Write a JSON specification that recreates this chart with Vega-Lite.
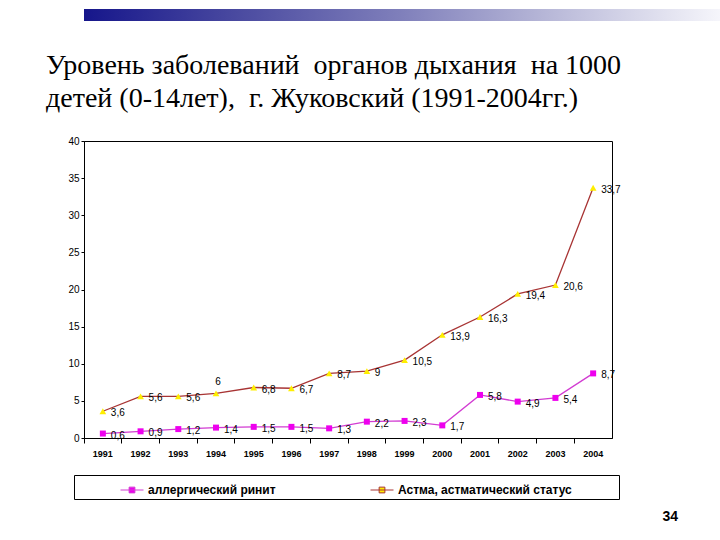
{
  "$schema": "https://vega.github.io/schema/vega-lite/v6.json",
  "autosize": {"type": "pad"},
  "padding": {"left": 45, "top": 9, "right": 0, "bottom": 0},
  "background": "white",
  "config": {
    "font": "Liberation Sans",
    "view": {"stroke": "black", "strokeWidth": 1},
    "axis": {"domainColor": "black", "tickColor": "black", "labelColor": "black"}
  },
  "title": {"text": "34", "orient": "bottom", "anchor": "end", "frame": "bounds", "fontSize": 14, "fontWeight": "bold", "font": "Liberation Sans", "color": "black", "dx": -43, "offset": 10, "baseline": "top"},
  "spacing": 30,
  "resolve": {"scale": {"color": "independent"}, "legend": {"color": "independent"}},
  "vconcat": [
    {
      "width": 637,
      "height": 12,
      "view": {"stroke": null},
      "data": {"values": [{"k": 1}]},
      "mark": {
        "type": "rect",
        "color": {
          "gradient": "linear", "x1": 0, "x2": 1, "y1": 0, "y2": 0,
          "stops": [
            {"offset": 0, "color": "#16168b"},
            {"offset": 0.24, "color": "#4a4aa0"},
            {"offset": 0.5, "color": "#8080bb"},
            {"offset": 0.73, "color": "#b8b8d8"},
            {"offset": 1, "color": "#f6f6fb"}
          ]
        }
      },
      "encoding": {}
    },
    {
      "width": 528,
      "height": 297,
      "title": {
        "text": ["Уровень заболеваний\u00a0 органов дыхания\u00a0 на 1000", "детей (0-14лет),\u00a0 г. Жуковский (1991-2004гг.)"],
        "font": "Liberation Serif", "fontSize": 28, "fontWeight": "normal", "color": "black",
        "lineHeight": 33, "anchor": "start", "frame": "group", "dx": -38, "offset": 23
      },
      "data": {
        "values": [
          {"year": "1991", "series": "аллергический ринит", "value": 0.6, "label": "0,6"},
          {"year": "1992", "series": "аллергический ринит", "value": 0.9, "label": "0,9"},
          {"year": "1993", "series": "аллергический ринит", "value": 1.2, "label": "1,2"},
          {"year": "1994", "series": "аллергический ринит", "value": 1.4, "label": "1,4"},
          {"year": "1995", "series": "аллергический ринит", "value": 1.5, "label": "1,5"},
          {"year": "1996", "series": "аллергический ринит", "value": 1.5, "label": "1,5"},
          {"year": "1997", "series": "аллергический ринит", "value": 1.3, "label": "1,3"},
          {"year": "1998", "series": "аллергический ринит", "value": 2.2, "label": "2,2"},
          {"year": "1999", "series": "аллергический ринит", "value": 2.3, "label": "2,3"},
          {"year": "2000", "series": "аллергический ринит", "value": 1.7, "label": "1,7"},
          {"year": "2001", "series": "аллергический ринит", "value": 5.8, "label": "5,8"},
          {"year": "2002", "series": "аллергический ринит", "value": 4.9, "label": "4,9"},
          {"year": "2003", "series": "аллергический ринит", "value": 5.4, "label": "5,4"},
          {"year": "2004", "series": "аллергический ринит", "value": 8.7, "label": "8,7"},
          {"year": "1991", "series": "Астма, астматический статус", "value": 3.6, "label": "3,6"},
          {"year": "1992", "series": "Астма, астматический статус", "value": 5.6, "label": "5,6"},
          {"year": "1993", "series": "Астма, астматический статус", "value": 5.6, "label": "5,6"},
          {"year": "1994", "series": "Астма, астматический статус", "value": 6, "label": "6"},
          {"year": "1995", "series": "Астма, астматический статус", "value": 6.8, "label": "6,8"},
          {"year": "1996", "series": "Астма, астматический статус", "value": 6.7, "label": "6,7"},
          {"year": "1997", "series": "Астма, астматический статус", "value": 8.7, "label": "8,7"},
          {"year": "1998", "series": "Астма, астматический статус", "value": 9, "label": "9"},
          {"year": "1999", "series": "Астма, астматический статус", "value": 10.5, "label": "10,5"},
          {"year": "2000", "series": "Астма, астматический статус", "value": 13.9, "label": "13,9"},
          {"year": "2001", "series": "Астма, астматический статус", "value": 16.3, "label": "16,3"},
          {"year": "2002", "series": "Астма, астматический статус", "value": 19.4, "label": "19,4"},
          {"year": "2003", "series": "Астма, астматический статус", "value": 20.6, "label": "20,6"},
          {"year": "2004", "series": "Астма, астматический статус", "value": 33.7, "label": "33,7"}
        ]
      },
      "encoding": {
        "y": {
          "field": "value", "type": "quantitative",
          "scale": {"domain": [0, 40], "nice": false},
          "axis": {"title": null, "values": [0, 5, 10, 15, 20, 25, 30, 35, 40], "tickSize": 3, "labelFontSize": 10, "labelPadding": 2, "grid": false}
        }
      },
      "layer": [
        {
          "mark": {"type": "line", "strokeWidth": 1.3},
          "encoding": {
            "x": {
              "field": "year", "type": "ordinal", "bandPosition": 0.5,
              "scale": {"type": "band", "paddingInner": 0, "paddingOuter": 0},
              "axis": {"orient": "bottom", "title": null, "ticks": false, "labelAngle": 0, "labelFontSize": 9, "labelFontWeight": "bold", "labelPadding": 11}
            },
            "color": {
              "field": "series", "type": "nominal",
              "scale": {"domain": ["аллергический ринит", "Астма, астматический статус"], "range": ["#d23cd2", "#a83434"]},
              "legend": {
                "orient": "none", "legendX": -10, "legendY": 334, "direction": "horizontal", "columns": 2,
                "title": "\u00a0", "titleOrient": "left", "titlePadding": 43, "titleFontSize": 2,
                "strokeColor": "black", "padding": 3,
                "labelFontSize": 12, "labelFontWeight": "bold", "labelColor": "black", "labelLimit": 500, "labelOffset": 4,
                "columnPadding": 92,
                "symbolType": "M-1,0H1M-0.25,-0.25H0.25V0.25H-0.25Z", "symbolSize": 529, "symbolStrokeWidth": 1,
                "labelExpr": "datum.value === 'Астма, астматический статус' ? datum.label + '\u00a0\u00a0\u00a0\u00a0\u00a0\u00a0\u00a0\u00a0\u00a0\u00a0\u00a0\u00a0\u00a0\u200b' : datum.label",
                "encode": {"symbols": {"update": {"fill": {"signal": "datum.value === 'аллергический ринит' ? '#ee00ee' : '#ffee00'"}}}}
              }
            }
          }
        },
        {
          "mark": {"type": "point", "shape": "square", "filled": true, "size": 36, "opacity": 1, "color": "#ee00ee"},
          "transform": [{"filter": "datum.series === 'аллергический ринит'"}],
          "encoding": {
            "x": {
              "field": "year", "type": "ordinal", "bandPosition": 0.5,
              "axis": {"orient": "bottom", "title": null, "labels": false, "ticks": true, "tickSize": 5, "bandPosition": 0, "domain": false}
            }
          }
        },
        {
          "mark": {"type": "point", "shape": "triangle-up", "filled": true, "size": 45, "opacity": 1, "color": "#ffee00"},
          "transform": [{"filter": "datum.series !== 'аллергический ринит'"}],
          "encoding": {
            "x": {"field": "year", "type": "ordinal", "bandPosition": 0.5, "axis": null}
          }
        },
        {
          "mark": {"type": "text", "align": "left", "baseline": "middle", "dx": 8, "dy": 2, "fontSize": 10, "color": "black"},
          "transform": [{"filter": "!(datum.year === '1994' && datum.series !== 'аллергический ринит')"}],
          "encoding": {
            "x": {"field": "year", "type": "ordinal", "bandPosition": 0.5, "axis": null},
            "text": {"field": "label"}
          }
        },
        {
          "mark": {"type": "text", "align": "center", "baseline": "middle", "dx": 2, "dy": -11, "fontSize": 10, "color": "black"},
          "transform": [{"filter": "datum.year === '1994' && datum.series !== 'аллергический ринит'"}],
          "encoding": {
            "x": {"field": "year", "type": "ordinal", "bandPosition": 0.5, "axis": null},
            "text": {"field": "label"}
          }
        }
      ],
      "resolve": {"axis": {"x": "independent"}}
    }
  ]
}
